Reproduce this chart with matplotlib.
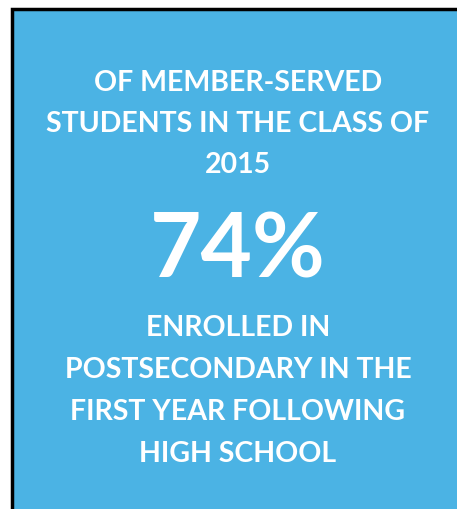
import matplotlib.pyplot as plt
from matplotlib.patches import Rectangle

top_lines = ['OF MEMBER-SERVED', 'STUDENTS IN THE CLASS OF', '2015']
big_value = '74%'
bottom_lines = ['ENROLLED IN', 'POSTSECONDARY IN THE', 'FIRST YEAR FOLLOWING', 'HIGH SCHOOL']

W, H = 457, 510
fig = plt.figure(figsize=(W / 100, H / 100), dpi=100)
ax = fig.add_axes([0, 0, 1, 1])
ax.set_xlim(0, W)
ax.set_ylim(H, 0)
ax.axis('off')

blue = '#4BB3E4'
ax.add_patch(Rectangle((12, 10), W + 20, H + 20, facecolor=blue, edgecolor='black', linewidth=2.5))

font = ['Lato', 'DejaVu Sans']
cx = 238
for i, t in enumerate(top_lines):
    ax.text(cx, 83 + i * 41, t, color='white', fontsize=20.5, fontweight='bold',
            family=font, ha='center', va='center')
ax.text(cx, 252, big_value, color='white', fontsize=64, fontweight='bold',
        family=font, ha='center', va='center')
for i, t in enumerate(bottom_lines):
    ax.text(cx, 328 + i * 42, t, color='white', fontsize=20.5, fontweight='bold',
            family=font, ha='center', va='center')

fig.savefig('out.png', dpi=100)
